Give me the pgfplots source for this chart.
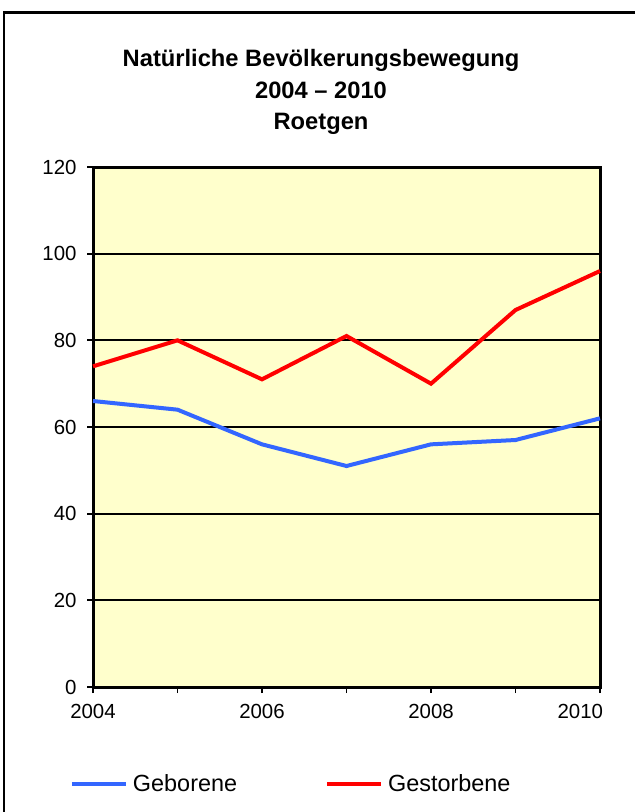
\documentclass[border=0pt]{standalone}
\usepackage{fontspec}
\setmainfont{Liberation Sans}
\usepackage{pgfplots}
\pgfplotsset{compat=1.18}
\definecolor{bgyellow}{RGB}{255,255,204}
\definecolor{lineblue}{RGB}{51,102,255}
\definecolor{linered}{RGB}{255,0,0}
\begin{document}
\begin{tikzpicture}[x=1bp,y=1bp]
\path[use as bounding box] (0,0) rectangle (635,-812);
\draw[line width=2.5bp] (4,-812) -- (4,-12.5) -- (635,-12.5);
\begin{scope}[every node/.style={font=\bfseries\fontsize{23.8}{31}\selectfont, anchor=base, inner sep=0pt}]
\node at (321,-67) {Natürliche Bevölkerungsbewegung};
\node at (321,-98) {2004 -- 2010};
\node at (321,-129) {Roetgen};
\end{scope}
\begin{axis}[
  at={(93bp,-687bp)}, anchor=south west,
  width=507bp, height=520bp, scale only axis,
  xmin=2004, xmax=2010, ymin=0, ymax=120,
  xtick={2004,2005,2006,2007,2008,2009,2010},
  xticklabels={2004,,2006,,2008,,\hbox to 0pt{\hss 2010\kern-3bp}},
  ytick={0,20,40,60,80,100,120},
  xtick pos=lower, ytick pos=left,
  /pgf/number format/assume math mode=true,
  tick align=outside, major tick length=6bp,
  tick style={black, line width=1.8bp},
  ymajorgrids, grid style={black, line width=2bp},
  axis line style={line width=3bp},
  axis background/.style={fill=bgyellow},
  ticklabel style={font=\fontsize{20.5}{24}\selectfont},
  xticklabel style={yshift=-8bp},
  yticklabel style={xshift=-7bp},
  clip=false,
  legend columns=2,
  legend style={at={(-0.0454,-0.1865)}, anchor=west, draw=none, fill=none,
    inner sep=0pt, outer sep=0pt,
    nodes={inner sep=0pt},
    font=\fontsize{23.5}{27}\selectfont,
    /tikz/every odd column/.append style={column sep=5bp},
    /tikz/every even column/.append style={column sep=88bp}},
  legend image code/.code={\draw[#1] (2bp,0bp) -- (56bp,0bp);},
]
\addplot[lineblue, line width=4bp] coordinates {(2004,66) (2005,64) (2006,56) (2007,51) (2008,56) (2009,57) (2010,62)};
\addlegendentry{Geborene}
\addplot[linered, line width=4bp] coordinates {(2004,74) (2005,80) (2006,71) (2007,81) (2008,70) (2009,87) (2010,96)};
\addlegendentry{Gestorbene}
\end{axis}
\end{tikzpicture}
\end{document}
